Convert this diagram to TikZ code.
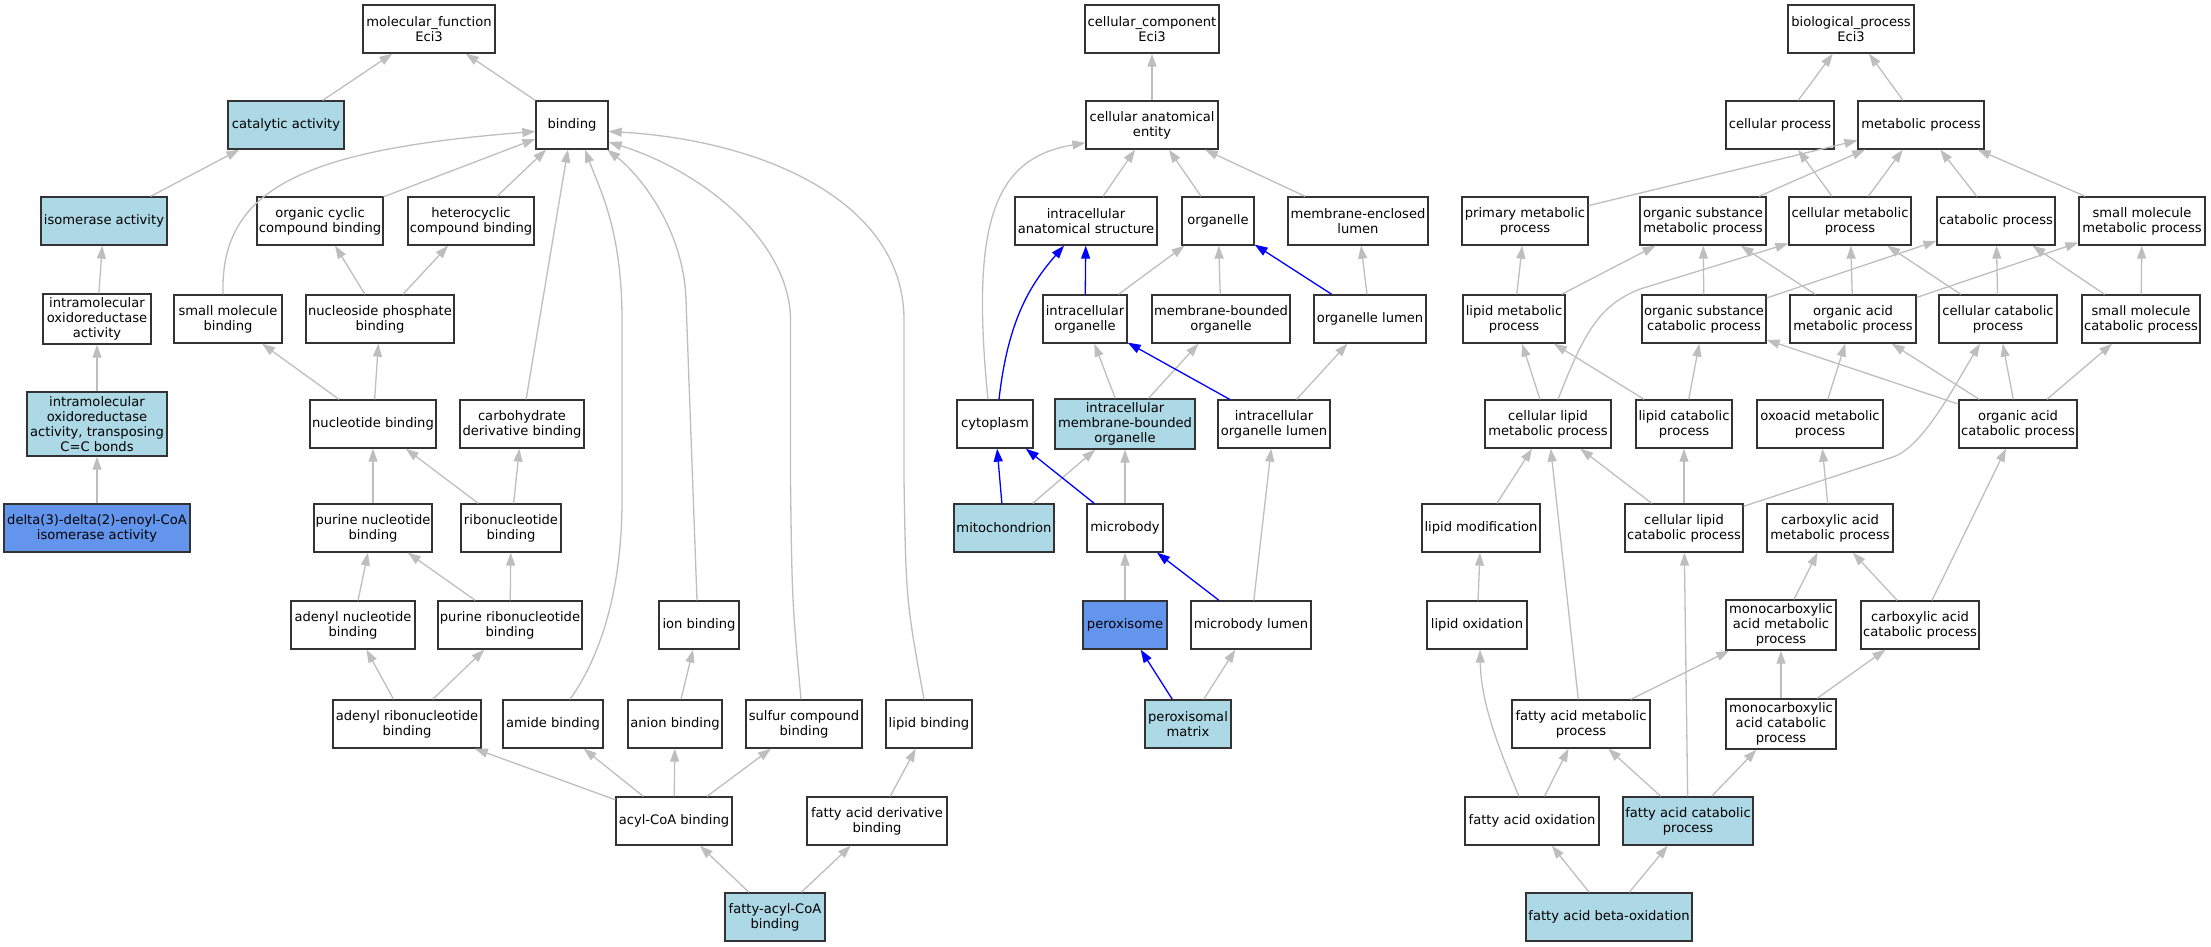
\documentclass[tikz,border=0pt]{standalone}
\usepackage{fontspec}
\setmainfont{DejaVu Sans}
\usetikzlibrary{arrows.meta}
\definecolor{lightblue}{HTML}{ADD8E6}
\definecolor{cornflower}{HTML}{6495ED}
\definecolor{isagray}{HTML}{BEBEBE}

\begin{document}
\begin{tikzpicture}[x=1pt, y=-1pt,
	term/.style ={rectangle, draw=black!80, line width=1.3pt, fill=white, align=center,
		inner sep=1pt, minimum height=48pt, font=\fontsize{13.1}{15}\selectfont},
	annot/.style ={term, fill=lightblue},
	query/.style ={term, fill=cornflower},
	isa/.style ={-{Triangle[length=13pt,width=9pt]}, color=isagray, line width=1.3pt},
	route/.style ={isa, color=blue}]
	\useasboundingbox (0,0) rectangle (2211,947);
	% molecular function
	\node[term, minimum width=132pt] (mf) at (429,29) {molecular\_function\\Eci3};
	\node[annot, minimum width=116pt] (cat) at (286,125) {catalytic activity};
	\node[term, minimum width=72pt] (bind) at (572,125) {binding};
	\node[annot, minimum width=126pt] (iso) at (104,221) {isomerase activity};
	\node[term, minimum width=126pt] (occb) at (320,221) {organic cyclic\\compound binding};
	\node[term, minimum width=126pt] (hccb) at (471,221) {heterocyclic\\compound binding};
	\node[term, minimum width=108pt, minimum height=50pt] (ioa) at (97,319) {intramolecular\\oxidoreductase\\activity};
	\node[term, minimum width=108pt] (smb) at (228,319) {small molecule\\binding};
	\node[term, minimum width=148pt] (npb) at (380,319) {nucleoside phosphate\\binding};
	\node[annot, minimum width=140pt, minimum height=64pt] (ioat) at (97,424) {intramolecular\\oxidoreductase\\activity, transposing\\C=C bonds};
	\node[term, minimum width=126pt] (ntb) at (373,424) {nucleotide binding};
	\node[term, minimum width=124pt] (cdb) at (522,424) {carbohydrate\\derivative binding};
	\node[query, minimum width=186pt] (eci) at (97,528) {delta(3)-delta(2)-enoyl-CoA\\isomerase activity};
	\node[term, minimum width=118pt] (pnb) at (373,528) {purine nucleotide\\binding};
	\node[term, minimum width=100pt] (rnb) at (511,528) {ribonucleotide\\binding};
	\node[term, minimum width=124pt] (anb) at (353,625) {adenyl nucleotide\\binding};
	\node[term, minimum width=144pt] (prb) at (510,625) {purine ribonucleotide\\binding};
	\node[term, minimum width=80pt] (ionb) at (699,625) {ion binding};
	\node[term, minimum width=148pt] (arb) at (407,724) {adenyl ribonucleotide\\binding};
	\node[term, minimum width=100pt] (amb) at (553,724) {amide binding};
	\node[term, minimum width=94pt] (anib) at (675,724) {anion binding};
	\node[term, minimum width=116pt] (scb) at (804,724) {sulfur compound\\binding};
	\node[term, minimum width=86pt] (lipb) at (929,724) {lipid binding};
	\node[term, minimum width=116pt] (acb) at (674,821) {acyl-CoA binding};
	\node[term, minimum width=140pt] (fadb) at (877,821) {fatty acid derivative\\binding};
	\node[annot, minimum width=100pt] (facb) at (775,917) {fatty-acyl-CoA\\binding};
	% cellular component
	\node[term, minimum width=134pt] (cc) at (1152,29) {cellular\_component\\Eci3};
	\node[term, minimum width=132pt] (cae) at (1152,125) {cellular anatomical\\entity};
	\node[term, minimum width=142pt] (ias) at (1086,221) {intracellular\\anatomical structure};
	\node[term, minimum width=72pt] (org) at (1218,221) {organelle};
	\node[term, minimum width=140pt] (mel) at (1358,221) {membrane-enclosed\\lumen};
	\node[term, minimum width=84pt] (io) at (1085,319) {intracellular\\organelle};
	\node[term, minimum width=138pt] (mbo) at (1221,319) {membrane-bounded\\organelle};
	\node[term, minimum width=112pt] (ol) at (1370,319) {organelle lumen};
	\node[term, minimum width=76pt] (cyto) at (995,424) {cytoplasm};
	\node[annot, minimum width=140pt, minimum height=50pt] (imbo) at (1125,424) {intracellular\\membrane-bounded\\organelle};
	\node[term, minimum width=112pt] (iol) at (1274,424) {intracellular\\organelle lumen};
	\node[annot, minimum width=100pt] (mito) at (1004,528) {mitochondrion};
	\node[term, minimum width=76pt] (mb) at (1125,528) {microbody};
	\node[query, minimum width=84pt] (perox) at (1125,625) {peroxisome};
	\node[term, minimum width=120pt] (mbl) at (1251,625) {microbody lumen};
	\node[annot, minimum width=86pt] (pm) at (1188,724) {peroxisomal\\matrix};
	% biological process
	\node[term, minimum width=126pt] (bp) at (1851,29) {biological\_process\\Eci3};
	\node[term, minimum width=108pt] (cp) at (1780,125) {cellular process};
	\node[term, minimum width=126pt] (mp) at (1921,125) {metabolic process};
	\node[term, minimum width=126pt] (pmp) at (1525,221) {primary metabolic\\process};
	\node[term, minimum width=126pt] (osm) at (1703,221) {organic substance\\metabolic process};
	\node[term, minimum width=122pt] (cmp) at (1850,221) {cellular metabolic\\process};
	\node[term, minimum width=118pt] (catp) at (1996,221) {catabolic process};
	\node[term, minimum width=126pt] (smm) at (2142,221) {small molecule\\metabolic process};
	\node[term, minimum width=102pt] (lmp) at (1514,319) {lipid metabolic\\process};
	\node[term, minimum width=124pt] (osc) at (1704,319) {organic substance\\catabolic process};
	\node[term, minimum width=126pt] (oam) at (1853,319) {organic acid\\metabolic process};
	\node[term, minimum width=118pt] (ccp) at (1998,319) {cellular catabolic\\process};
	\node[term, minimum width=118pt] (smc) at (2141,319) {small molecule\\catabolic process};
	\node[term, minimum width=126pt] (clm) at (1548,424) {cellular lipid\\metabolic process};
	\node[term, minimum width=96pt] (lcp) at (1684,424) {lipid catabolic\\process};
	\node[term, minimum width=126pt] (oxm) at (1820,424) {oxoacid metabolic\\process};
	\node[term, minimum width=118pt] (oac) at (2018,424) {organic acid\\catabolic process};
	\node[term, minimum width=118pt] (lmod) at (1481,528) {lipid modification};
	\node[term, minimum width=118pt] (cllc) at (1684,528) {cellular lipid\\catabolic process};
	\node[term, minimum width=126pt] (cam) at (1830,528) {carboxylic acid\\metabolic process};
	\node[term, minimum width=100pt] (lox) at (1477,625) {lipid oxidation};
	\node[term, minimum width=110pt, minimum height=50pt] (mam) at (1781,625) {monocarboxylic\\acid metabolic\\process};
	\node[term, minimum width=118pt] (cac) at (1920,625) {carboxylic acid\\catabolic process};
	\node[term, minimum width=138pt] (fam) at (1581,724) {fatty acid metabolic\\process};
	\node[term, minimum width=110pt, minimum height=50pt] (mac) at (1781,724) {monocarboxylic\\acid catabolic\\process};
	\node[term, minimum width=134pt] (fao) at (1532,821) {fatty acid oxidation};
	\node[annot, minimum width=130pt] (fac) at (1688,821) {fatty acid catabolic\\process};
	\node[annot, minimum width=166pt] (fabo) at (1609,917) {fatty acid beta-oxidation};
	% is_a links, molecular function
	\path (cat) edge[isa] (mf);
	\path (bind) edge[isa] (mf);
	\path (iso) edge[isa] (cat);
	\path (ioa) edge[isa] (iso);
	\path (ioat) edge[isa] (ioa);
	\path (eci) edge[isa] (ioat);
	\path (occb) edge[isa] (bind);
	\path (hccb) edge[isa] (bind);
	\path (npb) edge[isa] (occb);
	\path (npb) edge[isa] (hccb);
	\path (ntb) edge[isa] (smb);
	\path (ntb) edge[isa] (npb);
	\path (cdb) edge[isa] (bind);
	\path (pnb) edge[isa] (ntb);
	\path (rnb) edge[isa] (ntb);
	\path (rnb) edge[isa] (cdb);
	\path (anb) edge[isa] (pnb);
	\path (prb) edge[isa] (pnb);
	\path (prb) edge[isa] (rnb);
	\path (arb) edge[isa] (anb);
	\path (arb) edge[isa] (prb);
	\path (anib) edge[isa] (ionb);
	\path (acb) edge[isa] (arb);
	\path (acb) edge[isa] (amb);
	\path (acb) edge[isa] (anib);
	\path (acb) edge[isa] (scb);
	\path (facb) edge[isa] (acb);
	\path (facb) edge[isa] (fadb);
	\path (fadb) edge[isa] (lipb);
	\draw[isa] ([xshift=-5pt]smb.north) .. controls (220,190) and (300,150) .. (bind.190);
	\draw[isa] ([xshift=17pt]amb.north) .. controls (605,650) and (622,580) .. (622,500)
		-- (622,320) .. controls (622,230) and (600,190) .. ([xshift=13pt]bind.south);
	\draw[isa] ([xshift=-2pt]ionb.north) -- (686,300) .. controls (684,230) and (640,175) .. (bind.-35);
	\draw[isa] ([xshift=-3pt]scb.north) .. controls (792,600) .. (790.5,480)
		-- (790.5,320) .. controls (790,240) and (700,170) .. (bind.-25);
	\draw[isa] ([xshift=-5pt]lipb.north) .. controls (906,600) .. (904,480)
		-- (904,320) .. controls (904,200) and (760,140) .. (bind.-10);
	% is_a links, cellular component
	\path (cae) edge[isa] (cc);
	\path (ias) edge[isa] (cae);
	\path (org) edge[isa] (cae);
	\path (mel) edge[isa] (cae);
	\path (io) edge[isa] (org);
	\path (mbo) edge[isa] (org);
	\path (ol) edge[isa] (mel);
	\path (imbo) edge[isa] (io);
	\path (imbo) edge[isa] (mbo);
	\path (iol) edge[isa] (ol);
	\path (mito) edge[isa] (imbo);
	\path (mb) edge[isa] (imbo);
	\path (perox) edge[isa] (mb);
	\path (mbl) edge[isa] (iol);
	\path (pm) edge[isa] (mbl);
	\draw[isa] ([xshift=-7pt]cyto.north) .. controls (970,220) and (995,158) .. (cae.195);
	% part_of links
	\path (io) edge[route] (ias);
	\path (ol) edge[route] (org);
	\path (iol) edge[route] (io);
	\path (mito) edge[route] (cyto);
	\path (mb) edge[route] (cyto);
	\path (mbl) edge[route] (mb);
	\path (pm) edge[route] (perox);
	\draw[route] ([xshift=4pt]cyto.north) .. controls (1008,320) and (1030,285) .. ([xshift=-22pt]ias.south);
	% is_a links, biological process
	\path (cp) edge[isa] (bp);
	\path (mp) edge[isa] (bp);
	\path (pmp) edge[isa] (mp);
	\path (osm) edge[isa] (mp);
	\path (cmp) edge[isa] (mp);
	\path (cmp) edge[isa] (cp);
	\path (catp) edge[isa] (mp);
	\path (smm) edge[isa] (mp);
	\path (lmp) edge[isa] (pmp);
	\path (lmp) edge[isa] (osm);
	\path (osc) edge[isa] (osm);
	\path (osc) edge[isa] (catp);
	\path (oam) edge[isa] (osm);
	\path (oam) edge[isa] (cmp);
	\path (oam) edge[isa] (smm);
	\path (ccp) edge[isa] (cmp);
	\path (ccp) edge[isa] (catp);
	\path (smc) edge[isa] (catp);
	\path (smc) edge[isa] (smm);
	\path (clm) edge[isa] (lmp);
	\path (lcp) edge[isa] (lmp);
	\path (lcp) edge[isa] (osc);
	\path (oxm) edge[isa] (oam);
	\path (oac) edge[isa] (osc);
	\path (oac) edge[isa] (oam);
	\path (oac) edge[isa] (ccp);
	\path (oac) edge[isa] (smc);
	\path (lmod) edge[isa] (clm);
	\path (cllc) edge[isa] (clm);
	\path (cllc) edge[isa] (lcp);
	\path (cam) edge[isa] (oxm);
	\path (cac) edge[isa] (oac);
	\path (cac) edge[isa] (cam);
	\path (mam) edge[isa] (cam);
	\path (lox) edge[isa] (lmod);
	\path (fam) edge[isa] (clm);
	\path (fam) edge[isa] (mam);
	\path (mac) edge[isa] (mam);
	\path (mac) edge[isa] (cac);
	\path (fao) edge[isa] (fam);
	\path (fac) edge[isa] (fam);
	\path (fac) edge[isa] (cllc);
	\path (fac) edge[isa] (mac);
	\path (fabo) edge[isa] (fao);
	\path (fabo) edge[isa] (fac);
	\draw[isa] ([xshift=10pt]clm.north) .. controls (1585,330) and (1600,305) .. (1640,289) -- (cmp.200);
	\draw[isa] (cllc.20) -- (1893,457) .. controls (1923,447) and (1955,385) .. ([xshift=-18pt]ccp.south);
	\draw[isa] ([xshift=-13pt]fao.north) .. controls (1495,740) and (1481,700) .. ([xshift=3pt]lox.south);
\end{tikzpicture}
\end{document}
